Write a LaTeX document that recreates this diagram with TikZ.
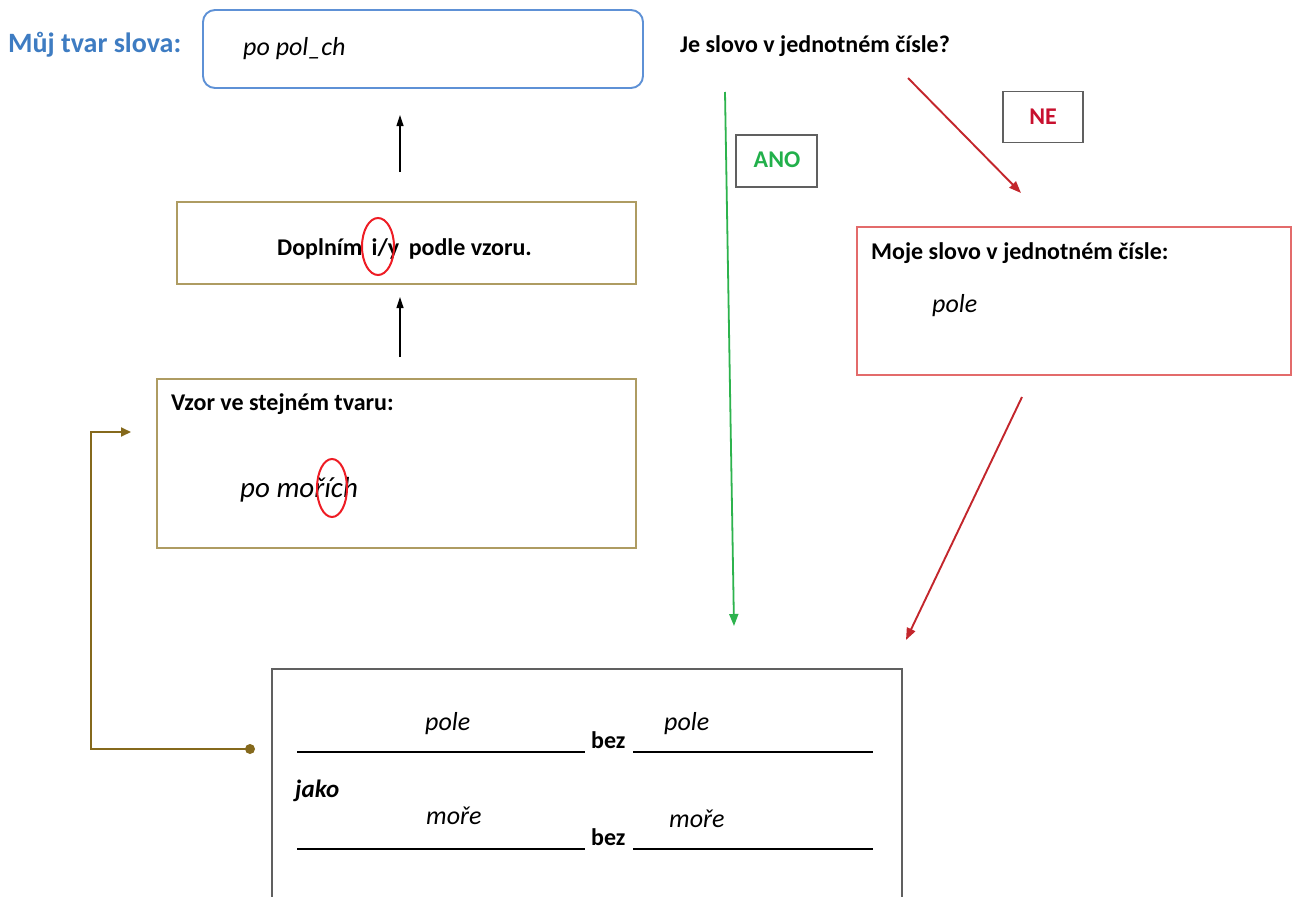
\documentclass[tikz,border=0pt]{standalone}
\usepackage{fontspec}
\setmainfont{Carlito}
\usetikzlibrary{arrows.meta,calc,shapes.geometric}
\definecolor{titleblue}{HTML}{3E7CC2}
\definecolor{boxblue}{HTML}{5E91D6}
\definecolor{boxolive}{HTML}{AE9C62}
\definecolor{connolive}{HTML}{85691C}
\definecolor{darkred}{HTML}{C3262C}
\definecolor{boxred}{HTML}{E36B6B}
\definecolor{textred}{HTML}{C8102E}
\definecolor{ellred}{HTML}{EE1C24}
\definecolor{arrgreen}{HTML}{2DB34D}
\definecolor{textgreen}{HTML}{22B04B}
\definecolor{boxgray}{HTML}{606060}
\tikzset{
  frame/.style={draw, rectangle, inner sep=0pt, line width=1.9pt},
  bftext/.style={font=\fontsize{24}{28}\selectfont\bfseries, inner sep=0pt, anchor=base west},
  ittext/.style={font=\fontsize{26}{30}\selectfont\itshape, inner sep=0pt, anchor=base west},
  mark ring/.style={draw=ellred, ellipse, line width=2pt, inner sep=0pt},
  blank/.style={line width=2.8pt, black},
  tip/.style={-{Triangle[length=12pt,width=9pt]}},
}
\begin{document}
\begin{tikzpicture}[x=1pt,y=-1pt]
\useasboundingbox (0,0) rectangle (1299,897);
\clip (0,0) rectangle (1299,897);
\fill[white] (0,0) rectangle (1299,897);

% title
\node[bftext, text=titleblue, font=\fontsize{28}{32}\selectfont\bfseries] (title) at (8,52) {Můj tvar slova:};
% top blue box
\node[frame, draw=boxblue, rounded corners=12pt, minimum width=440pt, minimum height=78pt] (top) at (423,49) {};
\node[ittext] (topw) at (243,55) {po pol\_ch};

% Doplnim box
\node[frame, draw=boxolive, minimum width=459pt, minimum height=82pt] (dop) at (406.5,243) {};
\node[bftext] (doptext) at (277,255) {Doplním\hspace{4pt} i/y\hspace{4pt} podle vzoru.};
\node[mark ring, minimum width=32pt, minimum height=57pt] (ring1) at (378,246.5) {};

% Vzor box
\node[frame, draw=boxolive, minimum width=479pt, minimum height=169pt] (vzor) at (396.5,463.5) {};
\node[bftext] (vzortitle) at (171,410) {Vzor ve stejném tvaru:};
\node[ittext, font=\fontsize{29}{33}\selectfont\itshape] (vzorw) at (240,497) {po mořích};
\node[mark ring, minimum width=30pt, minimum height=58pt] (ring2) at (332,488) {};

% arrows between left boxes
\coordinate (a1s) at (400,172);
\coordinate (a1e) at (400,115);
\draw[-{Triangle[length=11pt,width=7pt]}, line width=1.2pt, black] (a1s) -- (a1e);
\coordinate (a2s) at (400,357);
\coordinate (a2e) at (400,297);
\draw[-{Triangle[length=11pt,width=7pt]}, line width=1.2pt, black] (a2s) -- (a2e);

% question
\node[bftext] (quest) at (680,52) {Je slovo v jednotném čísle?};

% ANO branch
\coordinate (gs) at (725,92);
\coordinate (ge) at (734,626);
\draw[tip, arrgreen, line width=1.8pt] (gs) -- (ge);
\node[frame, draw=boxgray, minimum width=81pt, minimum height=52pt] (ano) at (776.5,161) {};
\node[font=\fontsize{24}{28}\selectfont\bfseries, text=textgreen, inner sep=0pt, anchor=base] (anot) at (777,167) {ANO};

% NE branch
\coordinate (rs) at (908,78);
\coordinate (re) at (1021,193);
\draw[tip, darkred, line width=1.9pt] (rs) -- (re);
\node[frame, draw=boxgray, minimum width=80pt, minimum height=51pt] (ne) at (1043,117) {};
\node[font=\fontsize{24}{28}\selectfont\bfseries, text=textred, inner sep=0pt, anchor=base] (net) at (1043,124) {NE};

% red box
\node[frame, draw=boxred, minimum width=434pt, minimum height=148pt] (moje) at (1074,301) {};
\node[bftext] (mojet) at (871,259) {Moje slovo v jednotném čísle:};
\node[ittext] (mojew) at (932,312) {pole};

% red arrow down
\coordinate (r2s) at (1022,397);
\coordinate (r2e) at (906,640);
\draw[tip, darkred, line width=1.9pt] (r2s) -- (r2e);

% bottom box
\node[frame, draw=boxgray, minimum width=630pt, minimum height=260pt] (bottom) at (587,799) {};
\node[ittext] (p1) at (425,730) {pole};
\node[ittext] (p2) at (664,730) {pole};
\node[bftext] (bez1) at (591,748) {bez};
\draw[blank] (297,752) -- (585,752);
\draw[blank] (633,752) -- (873,752);
\node[bftext, font=\fontsize{25}{29}\selectfont\bfseries\itshape] (jako) at (295,797) {jako};
\node[ittext] (m1) at (426,824) {moře};
\node[ittext] (m2) at (669,827) {moře};
\node[bftext] (bez2) at (591,845) {bez};
\draw[blank] (297,849) -- (585,849);
\draw[blank] (633,849) -- (873,849);

% olive connector
\coordinate (dot) at (250,749);
\coordinate (bend) at (91,432);
\coordinate (ct) at (131,432);
\draw[connolive, line width=2pt, -{Triangle[length=10pt,width=9pt]}] (dot) -| (bend) -- (ct);
\fill[connolive] (dot) circle (5pt);
\end{tikzpicture}
\end{document}
